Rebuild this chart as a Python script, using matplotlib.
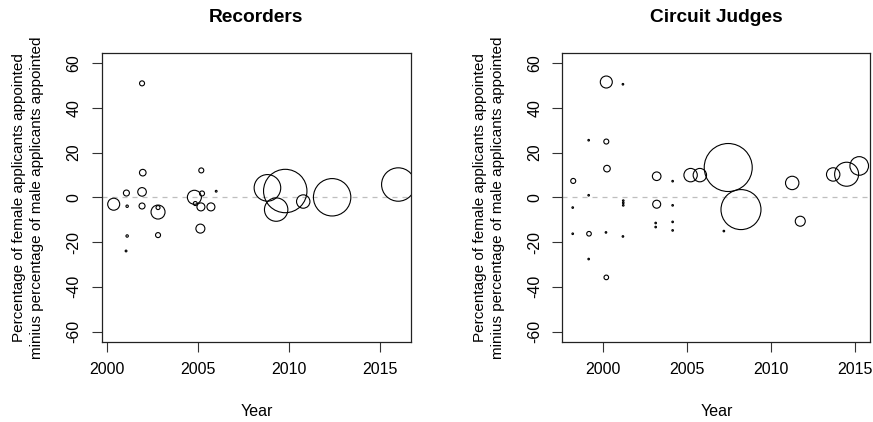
import matplotlib
matplotlib.use('Agg')
import matplotlib.pyplot as plt
import numpy as np

plt.rcParams['font.family'] = ['Liberation Sans', 'DejaVu Sans']
plt.rcParams['axes.unicode_minus'] = False

# Recorders: year, difference (female % appointed - male % appointed), bubble radius
rec_year = [2000.36, 2001.06, 2001.10, 2001.10, 2001.04, 2001.92, 2001.96, 2001.92,
            2001.92, 2002.80, 2002.80, 2002.80, 2004.80, 2005.18, 2005.22, 2004.85,
            2005.16, 2005.71, 2005.13, 2006.00, 2008.82, 2009.80, 2009.30, 2010.79,
            2012.38, 2016.02]
rec_diff = [-3.1, 1.9, -4.0, -17.3, -24.0, 50.9, 11.0, 2.4,
            -3.9, -6.6, -16.9, -4.6, 0.0, 12.0, 1.7, -2.8,
            -4.3, -4.3, -14.0, 2.7, 4.2, 2.8, -5.5, -1.9,
            0.0, 5.7]
rec_size = [6.0, 3.0, 1.2, 1.2, 0.9, 2.5, 3.3, 4.3,
            3.0, 7.0, 2.5, 2.0, 7.0, 2.5, 2.5, 2.0,
            4.0, 4.0, 4.5, 0.9, 13.3, 21.7, 11.7, 6.7,
            18.7, 16.7]

# Circuit judges
cj_year = [2000.18, 2001.17, 1999.13, 2000.18, 2000.22, 1998.21, 1999.13, 1998.18,
           1998.18, 1999.15, 2000.16, 1999.13, 2000.18, 2001.19, 2001.19, 2001.19,
           2001.17, 2003.18, 2003.18, 2003.12, 2003.12, 2004.13, 2004.13, 2004.13,
           2004.13, 2005.20, 2005.75, 2007.44, 2008.20, 2007.18, 2011.25, 2011.73,
           2013.69, 2014.49, 2015.24]
cj_diff = [51.5, 50.5, 25.5, 24.9, 12.8, 7.3, 0.9, -4.6,
           -16.3, -16.3, -15.7, -27.6, -35.8, -1.5, -2.5, -3.6,
           -17.5, 9.4, -3.1, -11.5, -13.3, 7.2, -3.6, -11.0,
           -14.8, 9.9, 9.9, 13.3, -5.5, -15.1, 6.4, -10.7,
           10.2, 10.3, 14.0]
cj_size = [6.0, 0.8, 0.8, 2.5, 3.3, 2.5, 0.8, 0.8,
           0.8, 2.3, 0.8, 0.8, 2.3, 0.8, 0.8, 0.8,
           0.8, 4.3, 4.0, 0.8, 0.8, 0.8, 0.8, 0.8,
           0.8, 6.7, 6.7, 24.0, 20.0, 0.8, 6.7, 5.0,
           6.7, 12.0, 9.3]

yticks = [-60, -40, -20, 0, 20, 40, 60]
xticks = [2000, 2005, 2010, 2015]
ylab = ('Percentage of female applicants appointed\n'
        'minius percentage of male applicants appointed')

W, H = 873, 422
fig = plt.figure(figsize=(W / 100, H / 100), dpi=100)

panels = [
    ('Recorders', rec_year, rec_diff, rec_size, (101.7, 411.0), (1999.7, 2016.72)),
    ('Circuit Judges', cj_year, cj_diff, cj_size, (562.3, 870.3), (1997.56, 2015.9)),
]

for title, yr, d, sz, (x0, x1), xlim in panels:
    ax = fig.add_axes([x0 / W, 1 - 342.3 / H, (x1 - x0) / W, (342.3 - 52.7) / H])
    ax.axhline(0, color='#BEBEBE', ls=(0, (4, 4)), lw=0.9, zorder=1)
    # radius in px -> marker diameter in points
    s = (2 * np.array(sz) * 0.72) ** 2
    ax.scatter(yr, d, s=s, facecolors='none', edgecolors='black', linewidths=0.8,
               zorder=2, clip_on=True)
    ax.set_xlim(*xlim)
    ax.set_ylim(-64.8, 64.6)
    ax.set_xticks(xticks)
    ax.set_yticks(yticks)
    ax.tick_params(length=7.5, width=0.8, color='#333333', labelsize=11.5, pad=7)
    for lab in ax.get_yticklabels():
        lab.set_rotation(90)
        lab.set_va('center')
    for sp in ax.spines.values():
        sp.set_linewidth(0.9)
        sp.set_color('#222222')
    ax.set_title(title, fontsize=13.8, fontweight='bold', pad=22)
    ax.set_xlabel('Year', fontsize=11.5, labelpad=19)
    ax.set_ylabel(ylab, fontsize=11, labelpad=16, linespacing=1.35)

fig.savefig('out.png', dpi=100)
